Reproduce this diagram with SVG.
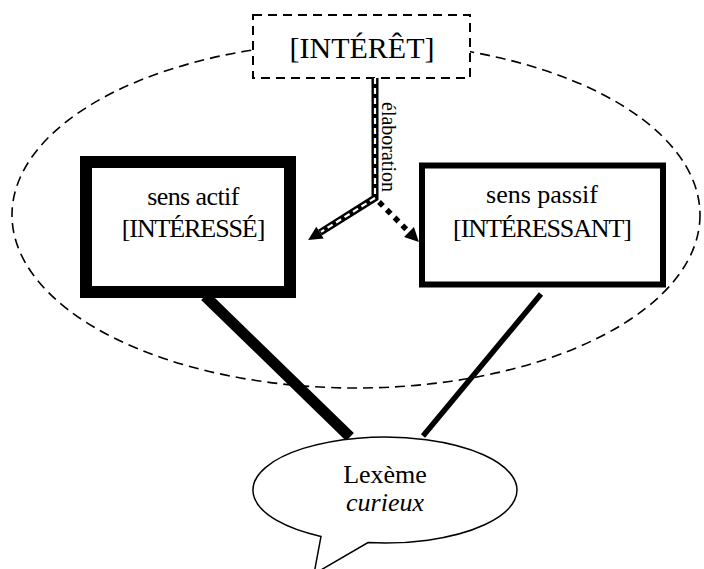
<svg xmlns="http://www.w3.org/2000/svg" width="704" height="569" viewBox="0 0 704 569">
<style>
  text { font-family: "Liberation Serif", "Times New Roman", serif; fill: #000; text-anchor: middle; }
  .t26 { font-size: 26px; }
  .caps { font-size: 26px; letter-spacing: -1.1px; }
  .dash { fill: none; stroke: #000; stroke-dasharray: 10 6; }
</style>
<defs>
  <marker id="arr" markerUnits="userSpaceOnUse" markerWidth="16" markerHeight="16" refX="0" refY="7" orient="auto" overflow="visible">
    <path d="M0,0 L14,7 L0,14 Z" fill="#000"/>
  </marker>
</defs>
<rect width="704" height="569" fill="#fff"/>

<g id="domaine">
  <ellipse cx="356" cy="215" rx="344" ry="173" class="dash" stroke-width="1.6"/>
</g>

<g id="interet">
  <rect x="253" y="15" width="217" height="63" fill="#fff" stroke="#000" stroke-width="2" stroke-dasharray="9 6"/>
  <text x="362" y="58" font-size="30">[INTÉRÊT]</text>
</g>

<g id="connectors">
  <path d="M375,78 L375,198 L320,232.6" fill="none" stroke="#000" stroke-width="7" stroke-linejoin="miter" marker-end="url(#arr)"/>
  <path d="M375,78 L375,198 L321,231.9" fill="none" stroke="#fff" stroke-width="2.2" stroke-dasharray="6 4" stroke-linejoin="miter"/>
  <path d="M379,202 L409,232" fill="none" stroke="#000" stroke-width="5.5" stroke-dasharray="5.5 5.5" marker-end="url(#arr)"/>
  <line x1="205" y1="296" x2="350" y2="437" stroke="#000" stroke-width="11"/>
  <line x1="541" y1="294" x2="423" y2="436" stroke="#000" stroke-width="5.5"/>
  <text x="0" y="0" font-size="20" transform="translate(382,147) rotate(90)">élaboration</text>
</g>

<g id="actif">
  <rect x="86" y="162" width="204" height="130" fill="#fff" stroke="#000" stroke-width="12"/>
  <text x="193" y="205" class="t26" letter-spacing="-0.6">sens actif</text>
  <text x="193" y="237" class="caps">[INTÉRESSÉ]</text>
</g>

<g id="passif">
  <rect x="422" y="165.5" width="241" height="119" fill="#fff" stroke="#000" stroke-width="6"/>
  <text x="542" y="203" class="t26">sens passif</text>
  <text x="542" y="237" class="caps">[INTÉRESSANT]</text>
</g>

<g id="lexeme">
  <path d="M368,542.6 A132,53 0 1 0 321,536.4 L314,574 Z" fill="#fff" stroke="#000" stroke-width="1.5" stroke-linejoin="miter"/>
  <text x="385" y="483" class="t26">Lexème</text>
  <text x="385" y="511" class="t26" font-style="italic">curieux</text>
</g>
</svg>
